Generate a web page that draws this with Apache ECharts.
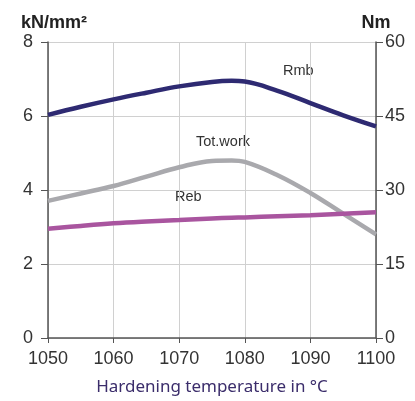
<!DOCTYPE html>
<html>
<head>
<meta charset="utf-8">
<script src="https://cdn.jsdelivr.net/npm/echarts@6/dist/echarts.min.js"></script>
<style>
  html, body { margin: 0; padding: 0; background: #fff; }
  #chart { width: 415px; height: 401px; }
</style>
</head>
<body>
<div id="chart"></div>
<script>
// temperatures (°C)
const temps = [1050, 1055, 1060, 1065, 1070, 1075, 1078, 1080, 1085, 1090, 1095, 1100];
// kN/mm2, left axis
const rmb = [6.03, 6.25, 6.45, 6.63, 6.80, 6.92, 6.95, 6.93, 6.68, 6.35, 6.02, 5.72];
const reb = [2.95, 3.03, 3.10, 3.15, 3.19, 3.23, 3.25, 3.26, 3.29, 3.32, 3.36, 3.40];
// Nm, right axis
const totWork = [27.8, 29.3, 30.8, 32.7, 34.6, 35.9, 36.0, 35.7, 33.0, 29.4, 25.2, 21.0];

const xTicks = [1050, 1100, 10];
const leftTicks = [0, 8, 2];
const rightTicks = [0, 60, 15];

const pairs = arr => temps.map((t, i) => [t, arr[i]]);

const chart = echarts.init(document.getElementById('chart'));

const labelFont = "'Liberation Sans', Arial, sans-serif";

chart.setOption({
  animation: false,
  grid: { left: 48, right: 39, top: 42, bottom: 63 },
  xAxis: {
    type: 'value',
    min: xTicks[0], max: xTicks[1], interval: xTicks[2],
    name: 'Hardening temperature in °C',
    nameLocation: 'middle',
    nameGap: 41,
    nameTextStyle: { fontSize: 17, color: '#3b2d6b', fontFamily: "'Noto Sans', sans-serif" },
    axisLine: { show: true, lineStyle: { color: '#555', width: 1.5 } },
    axisTick: { show: true, length: 5, lineStyle: { color: '#555' } },
    axisLabel: { fontSize: 18, color: '#333', margin: 12, fontFamily: labelFont, formatter: v => String(v) },
    splitLine: { show: true, lineStyle: { color: '#d0d0d0', width: 1 } }
  },
  yAxis: [
    {
      type: 'value',
      min: leftTicks[0], max: leftTicks[1], interval: leftTicks[2],
      name: 'kN/mm²',
      nameLocation: 'end',
      nameGap: 10,
      nameTextStyle: { fontSize: 18, fontWeight: 'bold', color: '#222', fontFamily: labelFont, padding: [0, 0, 0, 12] },
      axisLine: { show: true, lineStyle: { color: '#555', width: 1.5 } },
      axisTick: { show: true, length: 7, lineStyle: { color: '#555' } },
      axisLabel: { fontSize: 18, color: '#333', margin: 15, fontFamily: labelFont },
      splitLine: { show: true, lineStyle: { color: '#d0d0d0', width: 1 } }
    },
    {
      type: 'value',
      min: rightTicks[0], max: rightTicks[1], interval: rightTicks[2],
      name: 'Nm',
      nameLocation: 'end',
      nameGap: 10,
      nameTextStyle: { fontSize: 18, fontWeight: 'bold', color: '#222', fontFamily: labelFont },
      position: 'right',
      axisLine: { show: true, lineStyle: { color: '#555', width: 1.5 } },
      axisTick: { show: true, length: 7, lineStyle: { color: '#555' } },
      axisLabel: { fontSize: 18, color: '#333', margin: 9, fontFamily: labelFont },
      splitLine: { show: false }
    }
  ],
  series: [
    {
      name: 'Rmb', type: 'line', yAxisIndex: 0, smooth: 0.4, symbol: 'none',
      data: pairs(rmb),
      lineStyle: { color: '#2e2a72', width: 4.5 }
    },
    {
      name: 'Tot.work', type: 'line', yAxisIndex: 1, smooth: 0.4, symbol: 'none',
      data: pairs(totWork),
      lineStyle: { color: '#a9a9ad', width: 4.5 }
    },
    {
      name: 'Reb', type: 'line', yAxisIndex: 0, smooth: 0.4, symbol: 'none',
      data: pairs(reb),
      lineStyle: { color: '#a9559f', width: 4.5 }
    }
  ],
  graphic: [
    { type: 'text', left: 283, top: 63, style: { text: 'Rmb', fontSize: 14.5, fill: '#333', fontFamily: labelFont } },
    { type: 'text', left: 196, top: 134, style: { text: 'Tot.work', fontSize: 14.5, fill: '#333', fontFamily: labelFont } },
    { type: 'text', left: 175, top: 189, style: { text: 'Reb', fontSize: 14.5, fill: '#333', fontFamily: labelFont } }
  ]
});
</script>
</body>
</html>
